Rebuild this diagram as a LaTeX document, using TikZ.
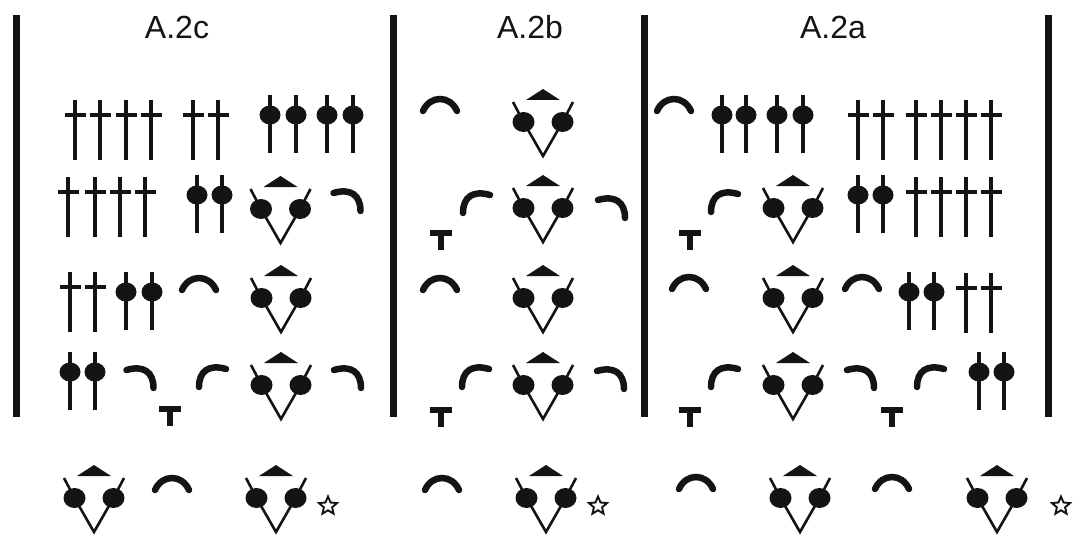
\documentclass[tikz,border=0pt]{standalone}
\usepackage{fontspec}
\setmainfont{Liberation Sans}
\definecolor{ink}{HTML}{141414}
\tikzset{
  crossst/.pic={\draw[line width=4.2] (0,0) -- (0,60); \draw[line width=4.2] (-10.5,15) -- (10.5,15);},
  bobst/.pic={\draw[line width=3.4] (0,0) -- (0,58); \fill (0,20) ellipse [x radius=10.5, y radius=9.5];},
  fanst/.pic={\fill (-19.5,0) ellipse [x radius=11, y radius=10];
              \fill (19.5,0) ellipse [x radius=11, y radius=10];
              \draw[line width=2.6] (-30,-20) -- (-19.5,0) -- (0,34) -- (19.5,0) -- (30,-20);
              \fill (0,-33) -- (17,-22) -- (-17,-22) -- cycle;},
  archst/.pic={\draw[line width=6.5,line cap=round] (-17,6) .. controls (-10,-10) and (10,-10) .. (17,6);},
  hookr/.pic={\draw[line width=6.5,line cap=round] (-14,-8) .. controls (3,-13) and (13,-6) .. (13,10);},
  hookl/.pic={\draw[line width=6.5,line cap=round] (14,-8) .. controls (-3,-13) and (-13,-6) .. (-13,10);},
  teest/.pic={\fill (-11,0) rectangle (11,5.5); \fill (-2.7,0) rectangle (2.7,20);},
  starst/.pic={\draw[line width=1.9,line join=miter] (-90:9.5) -- (-54:4.3) -- (-18:9.5) -- (18:4.3) -- (54:9.5) -- (90:4.3) -- (126:9.5) -- (162:4.3) -- (198:9.5) -- (234:4.3) -- cycle;},
  title/.style={font=\fontsize{32}{38}\selectfont, text=ink, inner sep=0pt}
}
\begin{document}
\begin{tikzpicture}[x=1pt,y=-1pt,ink,fill=ink,draw=ink]
\useasboundingbox[fill=white] (0,0) rectangle (1080,551);
% dividing bars
\fill (12.5,15) rectangle (19.5,417);
\fill (389.5,15) rectangle (396.5,417);
\fill (641,15) rectangle (648,417);
\fill (1045,15) rectangle (1052,417);
% titles
\node[title] (t2c) at (177,27) {A.2c};
\node[title] (t2b) at (530,27) {A.2b};
\node[title] (t2a) at (833,27) {A.2a};

% ---------- Row 1 ----------
\foreach \x in {75,100,126,151,193,218} \pic at (\x,100) {crossst};
\foreach \x in {270,296,327,353} \pic at (\x,95) {bobst};
\pic at (440,105) {archst};
\pic at (543,122) {fanst};
\pic at (674,105) {archst};
\foreach \x in {722,746,777,803} \pic at (\x,95) {bobst};
\foreach \x in {858,883,916,941,966,991} \pic at (\x,100) {crossst};

% ---------- Row 2 ----------
\foreach \x in {68,95,120,145} \pic at (\x,177) {crossst};
\foreach \x in {197,222} \pic at (\x,175) {bobst};
\pic at (280.5,209) {fanst};
\pic at (347.5,201) {hookr};
\pic at (441,230) {teest};
\pic at (476,203) {hookl};
\pic at (543,208) {fanst};
\pic at (612,208) {hookr};
\pic at (690,230) {teest};
\pic at (724,202) {hookl};
\pic at (793,208) {fanst};
\foreach \x in {858,883} \pic at (\x,175) {bobst};
\foreach \x in {916,941,966,991} \pic at (\x,177) {crossst};

% ---------- Row 3 ----------
\foreach \x in {70,95} \pic at (\x,272) {crossst};
\foreach \x in {126,152} \pic at (\x,272) {bobst};
\pic at (199,284) {archst};
\pic at (281,298) {fanst};
\pic at (440,284) {archst};
\pic at (543,298) {fanst};
\pic at (689,283) {archst};
\pic at (793,298) {fanst};
\pic at (862,283) {archst};
\foreach \x in {909,934} \pic at (\x,272) {bobst};
\foreach \x in {966,991} \pic at (\x,273) {crossst};

% ---------- Row 4 ----------
\foreach \x in {70,95} \pic at (\x,352) {bobst};
\pic at (140.5,378) {hookr};
\pic at (170,406) {teest};
\pic at (212,377) {hookl};
\pic at (281,385) {fanst};
\pic at (348,378) {hookr};
\pic at (441,407) {teest};
\pic at (475,377) {hookl};
\pic at (543,385) {fanst};
\pic at (611,379) {hookr};
\pic at (690,407) {teest};
\pic at (724,377) {hookl};
\pic at (793,385) {fanst};
\pic at (861,378) {hookr};
\pic at (892,407) {teest};
\pic at (930,377) {hookl};
\foreach \x in {979,1004} \pic at (\x,352) {bobst};

% ---------- Row 5 ----------
\pic at (94,498) {fanst};
\pic at (172,484) {archst};
\pic at (276,498) {fanst};
\pic at (328,506) {starst};
\pic at (442,484) {archst};
\pic at (546,498) {fanst};
\pic at (598,506) {starst};
\pic at (696,483) {archst};
\pic at (800,498) {fanst};
\pic at (892,483) {archst};
\pic at (997,498) {fanst};
\pic at (1061,506) {starst};
\end{tikzpicture}
\end{document}
